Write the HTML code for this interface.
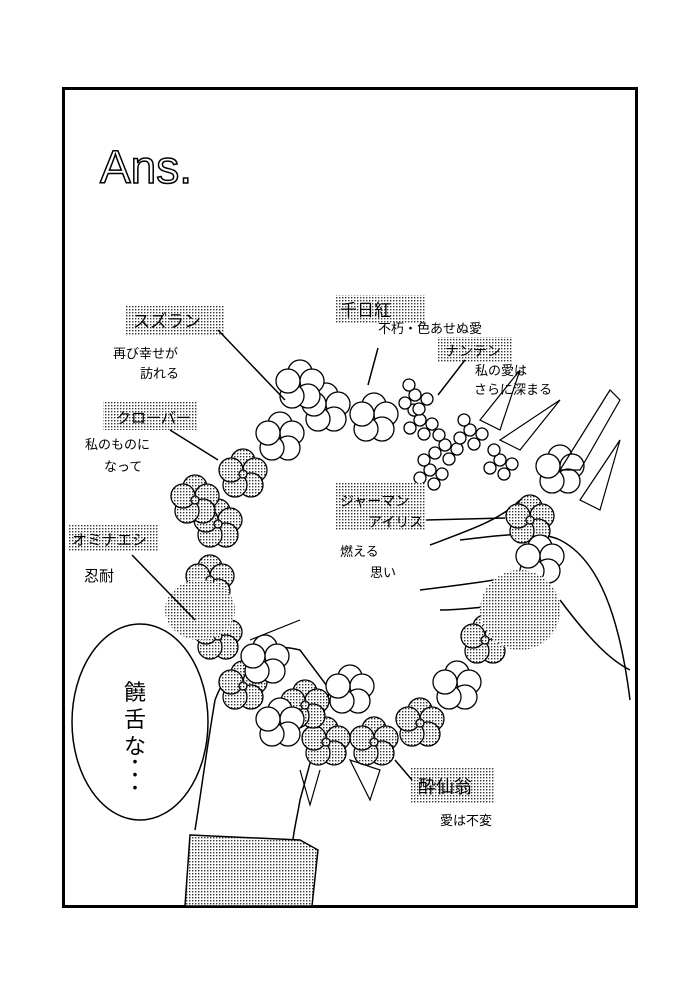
<!DOCTYPE html>
<html><head><meta charset="utf-8"><style>
html,body{margin:0;padding:0;background:#fff;}
body{width:698px;height:993px;position:relative;overflow:hidden;font-family:"Liberation Sans","Noto Sans CJK JP",sans-serif;}
</style></head><body>
<svg width="698" height="993" viewBox="0 0 698 993" xmlns="http://www.w3.org/2000/svg" style="position:absolute;left:0;top:0">
<defs>
<pattern id="dt" width="3" height="3" patternUnits="userSpaceOnUse"><rect width="3" height="3" fill="#fff"/><rect width="1.4" height="1.4" fill="#333"/></pattern>
<g id="fl"><circle cx="0" cy="-13" r="12"/><circle cx="12" cy="-4" r="12"/><circle cx="8" cy="11" r="12"/><circle cx="-8" cy="11" r="12"/><circle cx="-12" cy="-4" r="12"/><circle cx="0" cy="0" r="4"/></g>
<g id="fw"><circle cx="0" cy="-13" r="12"/><circle cx="12" cy="-4" r="12"/><circle cx="8" cy="11" r="12"/><circle cx="-8" cy="11" r="12"/><circle cx="-12" cy="-4" r="12"/></g>
<g id="bb"><circle cx="0" cy="0" r="6"/><circle cx="12" cy="4" r="6"/><circle cx="4" cy="14" r="6"/><circle cx="-10" cy="8" r="6"/><circle cx="-6" cy="-10" r="6"/></g>
</defs>
<rect x="63.5" y="88.5" width="573" height="818" fill="#fff" stroke="#000" stroke-width="3"/>
<text x="100" y="183" font-size="46" fill="#fff" stroke="#000" stroke-width="1.5" font-family="Liberation Sans, sans-serif">Ans.</text>

<!-- hands -->
<g fill="none" stroke="#000" stroke-width="1.5">
<path d="M215 700 C230 660 260 640 300 650 L330 690 L300 800 C295 830 290 840 292 880"/>
<path d="M215 700 C205 760 200 800 195 830"/>
<path d="M430 545 C470 530 500 520 520 500 M420 590 C460 585 500 580 520 575 M440 610 C480 610 520 600 540 600 M460 540 C500 535 540 530 560 540 C600 560 620 620 630 700"/>
<path d="M560 600 C590 640 610 660 630 670"/>
</g>
<path d="M190 835 L300 840 L318 850 L312 906 L185 906 Z" fill="url(#dt)" stroke="#000" stroke-width="1.5"/>

<!-- wreath -->
<g fill="url(#dt)" stroke="#000" stroke-width="1.3">
<use href="#fl" x="218" y="636"/><use href="#fl" x="210" y="580"/><use href="#fl" x="218" y="524"/><use href="#fl" x="243" y="474"/>
<use href="#fl" x="243" y="686"/><use href="#fl" x="326" y="742"/><use href="#fl" x="374" y="742"/><use href="#fl" x="420" y="723"/>
<use href="#fl" x="485" y="640"/><use href="#fl" x="530" y="520"/><use href="#fl" x="195" y="500"/><use href="#fl" x="305" y="705"/>
</g>
<g fill="#fff" stroke="#000" stroke-width="1.3">
<use href="#fw" x="280" y="437"/><use href="#fw" x="326" y="408"/><use href="#fw" x="300" y="385"/><use href="#fw" x="374" y="418"/>
<use href="#fw" x="280" y="723"/><use href="#fw" x="457" y="686"/><use href="#fw" x="350" y="690"/><use href="#fw" x="265" y="660"/>
<use href="#fw" x="560" y="470"/><use href="#fw" x="540" y="560"/>
<use href="#bb" x="420" y="420"/><use href="#bb" x="445" y="445"/><use href="#bb" x="470" y="430"/><use href="#bb" x="430" y="470"/><use href="#bb" x="500" y="460"/><use href="#bb" x="415" y="395"/>
</g>
<g fill="none" stroke="#000" stroke-width="1.2">
<path d="M480 420 L520 370 L500 430 Z M500 440 L560 400 L520 450 Z M560 470 L610 390 L620 400 L580 470 Z M580 500 L620 440 L600 510 Z"/>
<path d="M300 620 L250 640 M350 760 L370 800 L380 770 Z M300 770 L310 805 L320 770"/>
</g>
<g fill="url(#dt)"><ellipse cx="200" cy="610" rx="35" ry="30"/><ellipse cx="520" cy="610" rx="40" ry="40"/></g>

<!-- labels -->
<g fill="url(#dt)">
<rect x="125" y="305" width="100" height="30"/><rect x="335" y="295" width="90" height="28"/>
<rect x="438" y="337" width="75" height="25"/><rect x="103" y="402" width="95" height="28"/>
<rect x="336" y="483" width="90" height="48"/><rect x="68" y="524" width="90" height="28"/>
<rect x="410" y="768" width="85" height="35"/>
</g>
<g font-size="17" fill="#000">
<text x="133" y="327">スズラン</text>
<text x="340" y="316">千日紅</text>
<text x="445" y="356" font-size="14">ナンテン</text>
<text x="116" y="423" font-size="15">クローバー</text>
<text x="340" y="506" font-size="14">ジャーマン</text>
<text x="368" y="527" font-size="14">アイリス</text>
<text x="72" y="545" font-size="15">オミナエシ</text>
<text x="418" y="793" font-size="18">酔仙翁</text>
</g>
<g font-size="13" fill="#000">
<text x="113" y="358">再び幸せが</text><text x="140" y="378">訪れる</text>
<text x="378" y="333">不朽・色あせぬ愛</text>
<text x="475" y="375">私の愛は</text><text x="474" y="394">さらに深まる</text>
<text x="85" y="449">私のものに</text><text x="104" y="471">なって</text>
<text x="340" y="556">燃える</text><text x="370" y="577">思い</text>
<text x="84" y="581" font-size="15">忍耐</text>
<text x="440" y="825">愛は不変</text>
</g>
<g stroke="#000" stroke-width="1.5" fill="none">
<path d="M218 330 L285 400 M378 348 L368 385 M465 360 L438 395 M170 430 L218 460 M426 520 L505 518 M132 555 L195 620 M395 760 L412 780"/>
</g>

<!-- bubble -->
<ellipse cx="140" cy="722" rx="68" ry="98" fill="#fff" stroke="#000" stroke-width="1.5"/>
<g font-size="22" fill="#000" text-anchor="middle">
<text x="135" y="700">饒</text><text x="135" y="727">舌</text><text x="135" y="754">な</text>
<text x="135" y="770">･</text><text x="135" y="783">･</text><text x="135" y="796">･</text>
</g>
</svg>
</body></html>
